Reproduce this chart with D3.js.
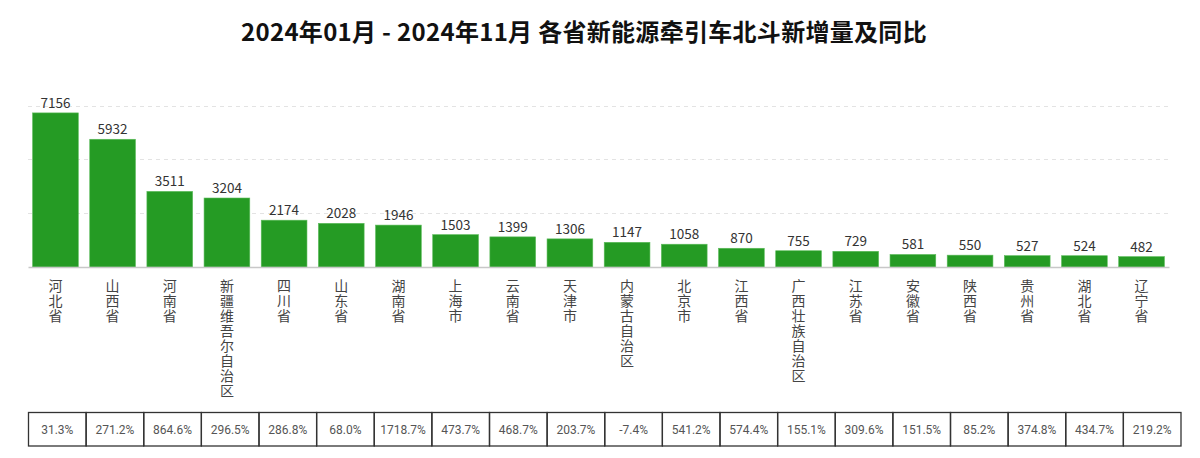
<!DOCTYPE html>
<html>
<head>
<meta charset="utf-8">
<script src="https://cdn.jsdelivr.net/npm/d3@7"></script>
<style>
  body { margin: 0; background: #fff; }
  svg { display: block; }
</style>
</head>
<body>
<svg id="chart" width="1200" height="458"></svg>
<script>
const title = "2024年01月 - 2024年11月 各省新能源牵引车北斗新增量及同比";
const provinces = ["河北省","山西省","河南省","新疆维吾尔自治区","四川省","山东省","湖南省","上海市","云南省","天津市","内蒙古自治区","北京市","江西省","广西壮族自治区","江苏省","安徽省","陕西省","贵州省","湖北省","辽宁省"];
const values = [7156,5932,3511,3204,2174,2028,1946,1503,1399,1306,1147,1058,870,755,729,581,550,527,524,482];
const yoy = ["31.3%","271.2%","864.6%","296.5%","286.8%","68.0%","1718.7%","473.7%","468.7%","203.7%","-7.4%","541.2%","574.4%","155.1%","309.6%","151.5%","85.2%","374.8%","434.7%","219.2%"];
const gridTicks = [2500, 5000, 7500];

const svg = d3.select("#chart");
const font = "'Noto Sans CJK SC', 'Noto Sans', sans-serif";

const x = d3.scaleBand().domain(provinces).range([28, 1169]).paddingInner(0.2).paddingOuter(0.08);
const y = d3.scaleLinear().domain([0, 7500]).range([267, 105.5]);

// title
svg.append("text").attr("x", 584).attr("y", 41).attr("text-anchor", "middle")
  .attr("font-family", font).attr("font-weight", "bold").attr("font-size", 24)
  .attr("letter-spacing", 0.3)
  .attr("fill", "#111").text(title);

// grid lines
svg.append("g").selectAll("line").data(gridTicks).join("line")
  .attr("x1", 28).attr("x2", 1169)
  .attr("y1", d => Math.round(y(d)) + 0.5).attr("y2", d => Math.round(y(d)) + 0.5)
  .attr("stroke", "#e3e3e3").attr("stroke-dasharray", "4,4");

// bars
svg.append("g").selectAll("rect").data(values).join("rect")
  .attr("x", (d, i) => x(provinces[i]))
  .attr("y", d => y(d))
  .attr("width", x.bandwidth())
  .attr("height", d => y(0) - y(d))
  .attr("fill", "#259b24")
  .attr("stroke", "#5bbb5a").attr("stroke-width", 0.6);

// axis line
const xAxis = d3.axisBottom(x).tickSize(0).tickFormat("");
const ax = svg.append("g").attr("transform", `translate(0,${y(0)})`).call(xAxis);
ax.select(".domain").attr("stroke", "#c8c8c8").attr("stroke-width", 1.5);

// value labels
svg.append("g").selectAll("text").data(values).join("text")
  .attr("x", (d, i) => x(provinces[i]) + x.bandwidth() / 2)
  .attr("y", d => y(d) - 5)
  .attr("text-anchor", "middle")
  .attr("font-family", font).attr("font-size", 13.5).attr("fill", "#333")
  .text(d => d);

// vertical category labels (one character per line)
const catG = svg.append("g");
provinces.forEach((p) => {
  const t = catG.append("text")
    .attr("font-family", font).attr("font-size", 14).attr("fill", "#444")
    .attr("text-anchor", "middle");
  Array.from(p).forEach((ch, j) => {
    t.append("tspan").attr("x", x(p) + x.bandwidth() / 2).attr("y", 291 + j * 15).text(ch);
  });
});

// table of yoy
const tx = d3.scaleBand().domain(provinces).range([28.5, 1181]);
const tTop = 412.5, tH = 33.5;
const tg = svg.append("g");
tg.selectAll("rect").data(yoy).join("rect")
  .attr("x", (d, i) => tx(provinces[i]))
  .attr("y", tTop).attr("width", tx.bandwidth()).attr("height", tH)
  .attr("fill", "none").attr("stroke", "#333").attr("stroke-width", 1.3);
tg.selectAll("text").data(yoy).join("text")
  .attr("x", (d, i) => tx(provinces[i]) + tx.bandwidth() / 2)
  .attr("y", tTop + tH / 2 + 4.5)
  .attr("text-anchor", "middle")
  .attr("font-family", "'Roboto', 'DejaVu Sans', sans-serif").attr("font-size", 12)
  .attr("fill", "#555").text(d => d);
</script>
</body>
</html>
